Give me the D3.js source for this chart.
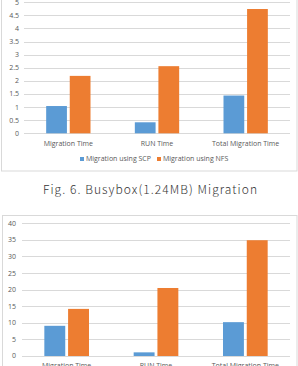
<!DOCTYPE html>
<html><head><meta charset="utf-8">
<script src="https://cdn.jsdelivr.net/npm/d3@7"></script>
<style>body{margin:0;background:#fff}svg{display:block}</style>
</head><body>
<script>
const categories = ["Migration Time", "RUN Time", "Total Migration Time"];
const seriesNames = ["Migration using SCP", "Migration using NFS"];
const colors = ["#5b9bd5", "#ed7d31"];
const busyboxSCP = [1.04, 0.42, 1.44];
const busyboxNFS = [2.19, 2.56, 4.74];
const busyboxTicks = [0, 0.5, 1, 1.5, 2, 2.5, 3, 3.5, 4, 4.5, 5];
const secondSCP = [9.1, 1.1, 10.2];
const secondNFS = [14.2, 20.5, 34.9];
const secondTicks = [0, 5, 10, 15, 20, 25, 30, 35, 40];
const caption = "Fig. 6. Busybox(1.24MB) Migration";

const W = 298, H = 366;
const svg = d3.select("body").append("svg").attr("width", W).attr("height", H);
const font = "'Open Sans', 'Noto Sans', sans-serif";
const textColor = "#595959";
const gridColor = "#d9d9d9";

function drawChart(g, scp, nfs, ticks, yRange, xRange, labelX, catY) {
  const y = d3.scaleLinear().domain([ticks[0], ticks[ticks.length-1]]).range(yRange);
  const x = d3.scaleBand().domain(categories).range(xRange).paddingInner(0.5).paddingOuter(0.25);
  const xs = d3.scaleBand().domain([0,1]).range([0, x.bandwidth()]).paddingInner(0.12);
  g.selectAll(".grid").data(ticks).join("line")
    .attr("x1", xRange[0]).attr("x2", xRange[1])
    .attr("y1", d => Math.round(y(d)) + 0.5).attr("y2", d => Math.round(y(d)) + 0.5)
    .attr("stroke", gridColor).attr("stroke-width", 1);
  g.selectAll(".tl").data(ticks).join("text")
    .attr("x", labelX).attr("y", d => y(d)).attr("dy", "0.35em")
    .attr("text-anchor", "end").attr("font-family", font).attr("font-size", 7)
    .attr("fill", textColor).text(d => d);
  const data = categories.map((c, i) => ({c, vals: [scp[i], nfs[i]]}));
  const grp = g.selectAll(".grp").data(data).join("g")
    .attr("transform", d => `translate(${x(d.c)},0)`);
  grp.selectAll("rect").data(d => d.vals.map((v, k) => ({v, k}))).join("rect")
    .attr("x", d => xs(d.k)).attr("width", xs.bandwidth())
    .attr("y", d => y(d.v)).attr("height", d => y(0) - y(d.v))
    .attr("fill", d => colors[d.k]);
  g.selectAll(".cat").data(categories).join("text")
    .attr("x", d => x(d) + x.bandwidth()/2).attr("y", catY)
    .attr("text-anchor", "middle").attr("font-family", font).attr("font-size", 7)
    .attr("fill", textColor).text(d => d);
  return {x, y};
}

svg.append("rect").attr("x", 1.5).attr("y", -5).attr("width", 295.5).attr("height", 176)
  .attr("fill", "none").attr("stroke", gridColor);
const topChart = svg.append("g");
drawChart(topChart, busyboxSCP, busyboxNFS, busyboxTicks, [133.3, 2.2], [24, 290], 19, 146);

const leg = svg.append("g");
const legX = [80, 157];
seriesNames.forEach((n, i) => {
  leg.append("rect").attr("x", legX[i]).attr("y", 157).attr("width", 4).attr("height", 4).attr("fill", colors[i]);
  leg.append("text").attr("x", legX[i] + 6).attr("y", 159).attr("dy", "0.35em")
    .attr("font-family", font).attr("font-size", 7).attr("fill", textColor).text(n);
});

svg.append("text").attr("x", 150).attr("y", 194.3).attr("text-anchor", "middle")
  .attr("font-family", "'Noto Sans CJK KR', 'Noto Sans', sans-serif").attr("font-size", 12)
  .attr("font-weight", 300)
  .attr("fill", "#333").attr("textLength", 214).attr("lengthAdjust", "spacing").text(caption);

svg.append("rect").attr("x", 2.5).attr("y", 215.5).attr("width", 294.5).attr("height", 170)
  .attr("fill", "none").attr("stroke", gridColor);
const botChart = svg.append("g");
drawChart(botChart, secondSCP, secondNFS, secondTicks, [356, 223.3], [22, 290], 16, 368);
</script>
</body></html>
